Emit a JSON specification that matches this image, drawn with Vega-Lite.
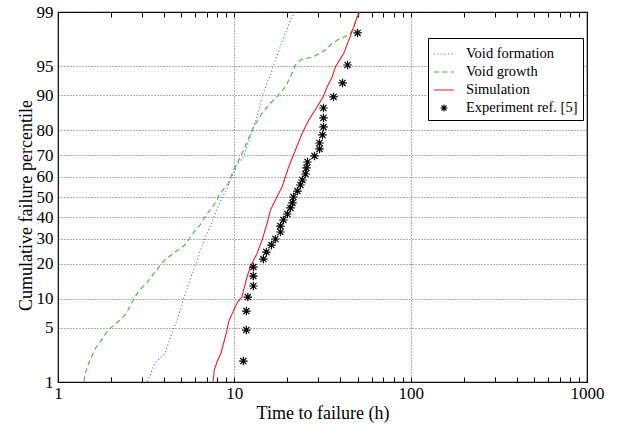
{
  "$schema": "https://vega.github.io/schema/vega-lite/v6.json",
  "width": 529,
  "height": 370,
  "autosize": "none",
  "padding": {"left": 58, "top": 12, "right": 35, "bottom": 46},
  "background": "white",
  "config": {
    "font": "Liberation Serif",
    "view": {"stroke": "black", "strokeWidth": 1.2},
    "axis": {"labelFont": "Liberation Serif", "titleFont": "Liberation Serif", "labelFontSize": 17, "titleFontSize": 18, "titleFontWeight": "normal", "labelColor": "black", "titleColor": "black", "domain": false},
    "legend": {"labelFont": "Liberation Serif", "labelFontSize": 14.5, "labelColor": "black"}
  },
  "data": {"values": [
    {"series": "Void formation", "t": 3.22, "z": -2.32},
    {"series": "Void formation", "t": 3.54, "z": -2.092},
    {"series": "Void formation", "t": 4.04, "z": -1.966},
    {"series": "Void formation", "t": 4.5, "z": -1.673},
    {"series": "Void formation", "t": 4.81, "z": -1.506},
    {"series": "Void formation", "t": 5.13, "z": -1.296},
    {"series": "Void formation", "t": 5.6, "z": -1.044},
    {"series": "Void formation", "t": 5.98, "z": -0.877},
    {"series": "Void formation", "t": 6.39, "z": -0.688},
    {"series": "Void formation", "t": 6.82, "z": -0.519},
    {"series": "Void formation", "t": 7.43, "z": -0.331},
    {"series": "Void formation", "t": 7.93, "z": -0.164},
    {"series": "Void formation", "t": 8.47, "z": -0.016},
    {"series": "Void formation", "t": 9.04, "z": 0.088},
    {"series": "Void formation", "t": 9.65, "z": 0.255},
    {"series": "Void formation", "t": 10.54, "z": 0.424},
    {"series": "Void formation", "t": 11.22, "z": 0.5},
    {"series": "Void formation", "t": 12.33, "z": 0.758},
    {"series": "Void formation", "t": 13.46, "z": 1.01},
    {"series": "Void formation", "t": 14.37, "z": 1.262},
    {"series": "Void formation", "t": 15.34, "z": 1.43},
    {"series": "Void formation", "t": 16.38, "z": 1.597},
    {"series": "Void formation", "t": 17.1, "z": 1.723},
    {"series": "Void formation", "t": 18.26, "z": 1.891},
    {"series": "Void formation", "t": 19.49, "z": 2.059},
    {"series": "Void formation", "t": 20.81, "z": 2.226},
    {"series": "Void formation", "t": 22.01, "z": 2.323},
    {"series": "Void growth", "t": 1.405, "z": -2.32},
    {"series": "Void growth", "t": 1.418, "z": -2.239},
    {"series": "Void growth", "t": 1.481, "z": -2.113},
    {"series": "Void growth", "t": 1.546, "z": -2.009},
    {"series": "Void growth", "t": 1.651, "z": -1.883},
    {"series": "Void growth", "t": 1.762, "z": -1.799},
    {"series": "Void growth", "t": 1.924, "z": -1.673},
    {"series": "Void growth", "t": 2.193, "z": -1.569},
    {"series": "Void growth", "t": 2.444, "z": -1.463},
    {"series": "Void growth", "t": 2.609, "z": -1.337},
    {"series": "Void growth", "t": 2.848, "z": -1.191},
    {"series": "Void growth", "t": 3.176, "z": -1.086},
    {"series": "Void growth", "t": 3.618, "z": -0.918},
    {"series": "Void growth", "t": 4.04, "z": -0.792},
    {"series": "Void growth", "t": 4.5, "z": -0.708},
    {"series": "Void growth", "t": 5.25, "z": -0.604},
    {"series": "Void growth", "t": 5.72, "z": -0.478},
    {"series": "Void growth", "t": 6.39, "z": -0.352},
    {"series": "Void growth", "t": 6.82, "z": -0.248},
    {"series": "Void growth", "t": 7.28, "z": -0.164},
    {"series": "Void growth", "t": 7.77, "z": -0.079},
    {"series": "Void growth", "t": 8.33, "z": 0.047},
    {"series": "Void growth", "t": 9.25, "z": 0.172},
    {"series": "Void growth", "t": 9.91, "z": 0.34},
    {"series": "Void growth", "t": 11.29, "z": 0.591},
    {"series": "Void growth", "t": 12.88, "z": 0.884},
    {"series": "Void growth", "t": 14.37, "z": 1.053},
    {"series": "Void growth", "t": 16.02, "z": 1.179},
    {"series": "Void growth", "t": 17.86, "z": 1.283},
    {"series": "Void growth", "t": 19.49, "z": 1.387},
    {"series": "Void growth", "t": 20.81, "z": 1.513},
    {"series": "Void growth", "t": 22.22, "z": 1.66},
    {"series": "Void growth", "t": 23.71, "z": 1.723},
    {"series": "Void growth", "t": 28.23, "z": 1.765},
    {"series": "Void growth", "t": 32.89, "z": 1.849},
    {"series": "Void growth", "t": 35.91, "z": 1.933},
    {"series": "Void growth", "t": 40.03, "z": 1.996},
    {"series": "Void growth", "t": 44.62, "z": 2.038},
    {"series": "Void growth", "t": 47.63, "z": 2.122},
    {"series": "Void growth", "t": 48.7, "z": 2.226},
    {"series": "Void growth", "t": 50.85, "z": 2.311},
    {"series": "Simulation", "t": 7.57, "z": -2.32},
    {"series": "Simulation", "t": 7.7, "z": -2.176},
    {"series": "Simulation", "t": 7.98, "z": -2.072},
    {"series": "Simulation", "t": 8.4, "z": -1.962},
    {"series": "Simulation", "t": 8.7, "z": -1.836},
    {"series": "Simulation", "t": 9.09, "z": -1.673},
    {"series": "Simulation", "t": 9.28, "z": -1.569},
    {"series": "Simulation", "t": 9.83, "z": -1.443},
    {"series": "Simulation", "t": 10.36, "z": -1.333},
    {"series": "Simulation", "t": 11.06, "z": -1.254},
    {"series": "Simulation", "t": 11.29, "z": -1.17},
    {"series": "Simulation", "t": 11.81, "z": -1.003},
    {"series": "Simulation", "t": 12.33, "z": -0.877},
    {"series": "Simulation", "t": 13.46, "z": -0.708},
    {"series": "Simulation", "t": 14.37, "z": -0.541},
    {"series": "Simulation", "t": 15.34, "z": -0.331},
    {"series": "Simulation", "t": 16.02, "z": -0.164},
    {"series": "Simulation", "t": 17.1, "z": -0.038},
    {"series": "Simulation", "t": 18.67, "z": 0.13},
    {"series": "Simulation", "t": 20.35, "z": 0.381},
    {"series": "Simulation", "t": 22.22, "z": 0.591},
    {"series": "Simulation", "t": 24.25, "z": 0.801},
    {"series": "Simulation", "t": 26.44, "z": 0.969},
    {"series": "Simulation", "t": 29.51, "z": 1.136},
    {"series": "Simulation", "t": 31.92, "z": 1.262},
    {"series": "Simulation", "t": 33.63, "z": 1.387},
    {"series": "Simulation", "t": 35.91, "z": 1.513},
    {"series": "Simulation", "t": 37.5, "z": 1.639},
    {"series": "Simulation", "t": 41.78, "z": 1.808},
    {"series": "Simulation", "t": 44.62, "z": 1.975},
    {"series": "Simulation", "t": 47.63, "z": 2.142},
    {"series": "Simulation", "t": 49.8, "z": 2.268},
    {"series": "Simulation", "t": 51.52, "z": 2.323},
    {"series": "Experiment ref. [5]", "t": 11.25, "z": -2.063},
    {"series": "Experiment ref. [5]", "t": 11.7, "z": -1.673},
    {"series": "Experiment ref. [5]", "t": 11.7, "z": -1.434},
    {"series": "Experiment ref. [5]", "t": 11.93, "z": -1.258},
    {"series": "Experiment ref. [5]", "t": 12.82, "z": -1.119},
    {"series": "Experiment ref. [5]", "t": 12.82, "z": -0.994},
    {"series": "Experiment ref. [5]", "t": 12.82, "z": -0.881},
    {"series": "Experiment ref. [5]", "t": 14.62, "z": -0.78},
    {"series": "Experiment ref. [5]", "t": 15.2, "z": -0.692},
    {"series": "Experiment ref. [5]", "t": 16.23, "z": -0.604},
    {"series": "Experiment ref. [5]", "t": 17.1, "z": -0.528},
    {"series": "Experiment ref. [5]", "t": 18.26, "z": -0.44},
    {"series": "Experiment ref. [5]", "t": 18.26, "z": -0.365},
    {"series": "Experiment ref. [5]", "t": 18.98, "z": -0.289},
    {"series": "Experiment ref. [5]", "t": 20.0, "z": -0.214},
    {"series": "Experiment ref. [5]", "t": 20.81, "z": -0.138},
    {"series": "Experiment ref. [5]", "t": 21.36, "z": -0.075},
    {"series": "Experiment ref. [5]", "t": 21.64, "z": 0.0},
    {"series": "Experiment ref. [5]", "t": 22.8, "z": 0.075},
    {"series": "Experiment ref. [5]", "t": 23.71, "z": 0.151},
    {"series": "Experiment ref. [5]", "t": 24.34, "z": 0.214},
    {"series": "Experiment ref. [5]", "t": 25.32, "z": 0.289},
    {"series": "Experiment ref. [5]", "t": 25.65, "z": 0.365},
    {"series": "Experiment ref. [5]", "t": 25.99, "z": 0.44},
    {"series": "Experiment ref. [5]", "t": 28.48, "z": 0.516},
    {"series": "Experiment ref. [5]", "t": 30.41, "z": 0.604},
    {"series": "Experiment ref. [5]", "t": 30.41, "z": 0.679},
    {"series": "Experiment ref. [5]", "t": 31.62, "z": 0.78},
    {"series": "Experiment ref. [5]", "t": 32.04, "z": 0.881},
    {"series": "Experiment ref. [5]", "t": 32.04, "z": 0.994},
    {"series": "Experiment ref. [5]", "t": 32.04, "z": 1.119},
    {"series": "Experiment ref. [5]", "t": 36.52, "z": 1.258},
    {"series": "Experiment ref. [5]", "t": 41.09, "z": 1.434},
    {"series": "Experiment ref. [5]", "t": 43.85, "z": 1.66},
    {"series": "Experiment ref. [5]", "t": 50.0, "z": 2.063}
  ]},
  "encoding": {
    "x": {"field": "t", "type": "quantitative", "scale": {"type": "log", "domain": [1, 1000], "nice": false}},
    "y": {"field": "z", "type": "quantitative", "scale": {"domain": [-2.3263, 2.3263], "nice": false, "zero": false},
      "axis": {"title": "Cumulative failure percentile", "values": [-2.3263, -1.6449, -1.2816, -0.8416, -0.5244, -0.2533, 0, 0.2533, 0.5244, 0.8416, 1.2816, 1.6449, 2.3263],
        "labelExpr": "round(cumulativeNormal(datum.value) * 100)", "ticks": false, "labelPadding": 5, "grid": true, "gridColor": "#333", "gridDash": [1, 2], "gridWidth": 0.8, "titlePadding": 1, "titleY": 193}}
  },
  "layer": [
    {
      "transform": [{"filter": "datum.series != 'Experiment ref. [5]'"}],
      "mark": {"type": "line", "strokeWidth": 1.1, "clip": true},
      "encoding": {
        "x": {"field": "t", "type": "quantitative", "scale": {"type": "log", "domain": [1, 1000], "nice": false},
          "axis": {"orient": "bottom", "title": "Time to failure (h)", "values": [1,2,3,4,5,6,7,8,9,10,20,30,40,50,60,70,80,90,100,200,300,400,500,600,700,800,900,1000],
            "labelExpr": "(datum.value == 1 || datum.value == 10 || datum.value == 100 || datum.value == 1000) ? format(datum.value, 'd') : ''", "tickSize": -5, "tickColor": "black", "labelPadding": 8, "labelOverlap": false, "labelFlush": false,
            "grid": true, "gridColor": "#333", "gridDash": [1, 2], "gridWidth": 0.8,
            "gridOpacity": {"condition": {"test": "datum.value == 10 || datum.value == 100", "value": 1}, "value": 0}, "titlePadding": 3}},
        "order": {"field": "z", "type": "quantitative"},
        "color": {"field": "series", "type": "nominal", "scale": {"domain": ["Void formation", "Void growth", "Simulation", "Experiment ref. [5]"], "range": ["#3f5fd0", "#3cb832", "#ee1c1c", "black"]},
          "legend": {"title": null, "orient": "none", "legendX": 370, "legendY": 26, "strokeColor": "black", "fillColor": "white", "padding": 5, "rowPadding": -4, "labelOffset": 11, "symbolStrokeWidth": 1.1, "symbolSize": 400}},
        "strokeDash": {"field": "series", "type": "nominal", "scale": {"domain": ["Void formation", "Void growth", "Simulation", "Experiment ref. [5]"], "range": [[1, 2.5], [5, 3.5], [1, 0], [1, 0]]},
          "legend": {"title": null, "orient": "none", "legendX": 370, "legendY": 26}}
      }
    },
    {
      "transform": [{"filter": "datum.series == 'Experiment ref. [5]'"}],
      "mark": {"type": "point", "filled": false, "strokeWidth": 1.2, "opacity": 1, "size": 600},
      "encoding": {
        "x": {"field": "t", "type": "quantitative", "scale": {"type": "log", "domain": [1, 1000], "nice": false},
          "axis": {"orient": "top", "title": null, "labels": false, "values": [1,2,3,4,5,6,7,8,9,10,20,30,40,50,60,70,80,90,100,200,300,400,500,600,700,800,900,1000], "tickSize": -5, "tickColor": "black", "grid": false}},
        "color": {"field": "series", "type": "nominal", "scale": {"domain": ["Void formation", "Void growth", "Simulation", "Experiment ref. [5]"], "range": ["#3f5fd0", "#3cb832", "#ee1c1c", "black"]},
          "legend": {"title": null, "orient": "none", "legendX": 370, "legendY": 26}},
        "shape": {"field": "series", "type": "nominal", "scale": {"domain": ["Void formation", "Void growth", "Simulation", "Experiment ref. [5]"], "range": ["stroke", "stroke", "stroke", "M-0.35,0L0.35,0M0,-0.35L0,0.35M-0.25,-0.25L0.25,0.25M-0.25,0.25L0.25,-0.25"]},
          "legend": {"title": null, "orient": "none", "legendX": 370, "legendY": 26}}
      }
    }
  ],
  "resolve": {"axis": {"x": "independent"}}
}
